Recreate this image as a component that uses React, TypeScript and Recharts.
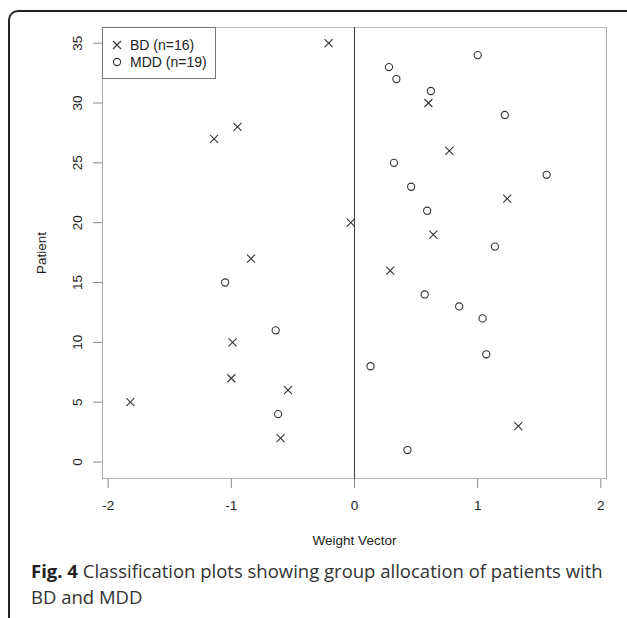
import { ScatterChart, Scatter, XAxis, YAxis, ReferenceArea, ReferenceLine, Legend } from 'recharts';

// patient numbers and weight-vector scores
const bdPatients = [2, 3, 5, 6, 7, 10, 16, 17, 19, 20, 22, 26, 27, 28, 30, 35];
const bdWeights = [-0.6, 1.33, -1.82, -0.54, -1.0, -0.99, 0.29, -0.84, 0.64, -0.03, 1.24, 0.77, -1.14, -0.95, 0.6, -0.21];

const mddPatients = [1, 4, 8, 9, 11, 12, 13, 14, 15, 18, 21, 23, 24, 25, 29, 31, 32, 33, 34];
const mddWeights = [0.43, -0.62, 0.13, 1.07, -0.64, 1.04, 0.85, 0.57, -1.05, 1.14, 0.59, 0.46, 1.56, 0.32, 1.22, 0.62, 0.34, 0.28, 1.0];

const xTicks = [-2, -1, 0, 1, 2];
const yTicks = [0, 5, 10, 15, 20, 25, 30, 35];
const xDomain = [-2.05, 2.05];
const yDomain = [-1.42, 36.35];

const bdData = bdPatients.map((p, i) => ({ x: bdWeights[i], y: p }));
const mddData = mddPatients.map((p, i) => ({ x: mddWeights[i], y: p }));

const INK = '#333';
const AXIS_FONT = 'Liberation Sans, Arial, sans-serif';

const Cross = (props: any) => {
    const { cx, cy } = props;
    const s = 4;
    return (
        <path d={`M${cx - s},${cy - s}L${cx + s},${cy + s}M${cx - s},${cy + s}L${cx + s},${cy - s}`} stroke={INK} strokeWidth={1.1} fill="none" />
    );
};

const Ring = (props: any) => {
    const { cx, cy } = props;
    return <circle cx={cx} cy={cy} r={3.6} stroke={INK} strokeWidth={1.1} fill="none" />;
};

const XTick = ({ x, y, payload }: any) => (
    <text x={x} y={y} dy={20} textAnchor="middle" fontSize={13.5} fontFamily={AXIS_FONT} fill="#222">
        {payload.value}
    </text>
);

const YTick = ({ x, y, payload }: any) => (
    <text transform={`translate(${x - 9},${y}) rotate(-90)`} textAnchor="middle" fontSize={13.5} fontFamily={AXIS_FONT} fill="#222">
        {payload.value}
    </text>
);

const LegendBox = () => (
    <div style={{ width: 112, height: 50, border: '1px solid #777', background: '#fff', position: 'relative' }}>
        <svg width={112} height={50} style={{ position: 'absolute', left: 0, top: 0 }}>
            <Cross cx={14} cy={17} />
            <Ring cx={14} cy={34} />
            <text x={27} y={22} fontSize={14} fontFamily={AXIS_FONT} fill="#222">BD (n=16)</text>
            <text x={27} y={39} fontSize={14} fontFamily={AXIS_FONT} fill="#222">MDD (n=19)</text>
        </svg>
    </div>
);

export default function App() {
    return (
        <div style={{ position: 'absolute', left: 0, top: 0, width: 627, height: 618, background: '#fff', overflow: 'hidden' }}>
            <div style={{ position: 'absolute', left: 8, top: 10, width: 640, height: 640, borderLeft: '2px solid #222', borderTop: '2px solid #222', borderTopLeftRadius: 10 }} />
            <div style={{ position: 'absolute', left: 0, top: 0 }}>
                <ScatterChart width={627} height={560} margin={{ top: 27, right: 20, left: 62, bottom: 51 }}>
                    <XAxis
                        type="number"
                        dataKey="x"
                        domain={xDomain}
                        ticks={xTicks}
                        allowDataOverflow
                        axisLine={false}
                        tickSize={9}
                        tickLine={{ stroke: '#888' }}
                        tick={<XTick />}
                        height={30}
                        label={{
                            content: (p: any) => (
                                <text x={p.viewBox.x + p.viewBox.width / 2} y={p.viewBox.y + 66} textAnchor="middle" fontSize={13.5} fontFamily={AXIS_FONT} fill="#222">
                                    Weight Vector
                                </text>
                            ),
                        }}
                    />
                    <YAxis
                        type="number"
                        dataKey="y"
                        domain={yDomain}
                        ticks={yTicks}
                        allowDataOverflow
                        axisLine={false}
                        tickSize={9}
                        tickLine={{ stroke: '#888' }}
                        tick={<YTick />}
                        width={40}
                        label={{
                            content: (p: any) => (
                                <text transform={`translate(46,${p.viewBox.y + p.viewBox.height / 2}) rotate(-90)`} textAnchor="middle" fontSize={13.5} fontFamily={AXIS_FONT} fill="#222">
                                    Patient
                                </text>
                            ),
                        }}
                    />
                    <ReferenceArea x1={xDomain[0]} x2={xDomain[1]} y1={yDomain[0]} y2={yDomain[1]} fill="none" stroke="#777" strokeWidth={1.2} ifOverflow="hidden" />
                    <ReferenceLine x={0} stroke="#444" strokeWidth={1.1} />
                    <Scatter name="BD (n=16)" data={bdData} shape={<Cross />} isAnimationActive={false} />
                    <Scatter name="MDD (n=19)" data={mddData} shape={<Ring />} isAnimationActive={false} />
                    <Legend layout="vertical" align="center" verticalAlign="middle" content={<LegendBox />} wrapperStyle={{ left: 102, top: 27, width: 'auto', height: 'auto' }} />
                </ScatterChart>
            </div>
            <div style={{ position: 'absolute', left: 31, top: 558, width: 594, fontFamily: '"Open Sans", sans-serif', fontSize: 18.5, lineHeight: '26px', color: '#333', whiteSpace: 'nowrap' }}>
                <b style={{ color: '#222' }}>Fig. 4</b> Classification plots showing group allocation of patients with
                <br />
                BD and MDD
            </div>
        </div>
    );
}
